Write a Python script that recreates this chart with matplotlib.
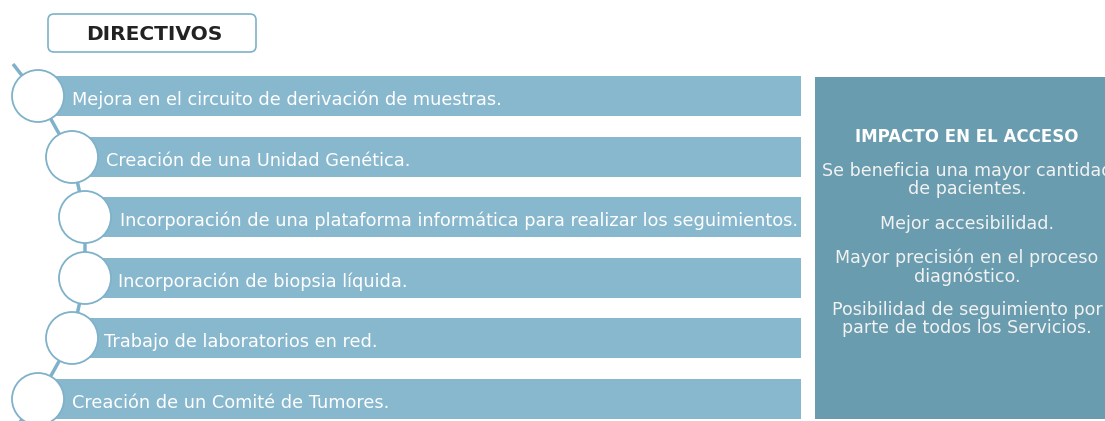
import matplotlib.pyplot as plt
from matplotlib.patches import Rectangle, Circle, FancyBboxPatch

# --- DATA ---
header = "DIRECTIVOS"
directivos = [
    "Mejora en el circuito de derivación de muestras.",
    "Creación de una Unidad Genética.",
    "Incorporación de una plataforma informática para realizar los seguimientos.",
    "Incorporación de biopsia líquida.",
    "Trabajo de laboratorios en red.",
    "Creación de un Comité de Tumores.",
]
panel_title = "IMPACTO EN EL ACCESO"
impactos = [
    "Se beneficia una mayor cantidad\nde pacientes.",
    "Mejor accesibilidad.",
    "Mayor precisión en el proceso\ndiagnóstico.",
    "Posibilidad de seguimiento por\nparte de todos los Servicios.",
]

# --- LAYOUT (pixels) ---
W, H = 1105, 421
bar_top = [76, 137, 197, 258, 318, 379]
bar_h = 40
bar_right = 801
circle_x = [38, 72, 85, 85, 72, 38]
circle_r = 26
text_x = [72, 106, 120, 118, 104, 72]
impact_y = [180, 224, 267, 319]

bar_color = '#88b8ce'
edge_color = '#7fb2ca'
panel_color = '#689cae'

fig = plt.figure(figsize=(W / 100, H / 100), dpi=100)
ax = fig.add_axes([0, 0, 1, 1])
ax.set_xlim(0, W)
ax.set_ylim(H, 0)
ax.axis('off')

# header box
box = FancyBboxPatch((48, 14), 208, 38, boxstyle="round,pad=0,rounding_size=6",
                     facecolor='white', edgecolor=edge_color, linewidth=1.2)
ax.add_patch(box)
ax.text(154, 34, header, ha='center', va='center', fontsize=14.5,
        fontweight='bold', color='#222222')

# connector line through circle centres
centres_y = [t + bar_h / 2 for t in bar_top]
xs = [13] + circle_x + [13]
ys = [64] + centres_y + [centres_y[-1] + 32]
ax.plot(xs, ys, color=edge_color, linewidth=2.5, zorder=1, solid_capstyle='butt')

for i, label in enumerate(directivos):
    ax.add_patch(Rectangle((circle_x[i], bar_top[i]), bar_right - circle_x[i], bar_h,
                           facecolor=bar_color, edgecolor='none', zorder=2))
    ax.add_patch(Circle((circle_x[i], centres_y[i]), circle_r, facecolor='white',
                        edgecolor=edge_color, linewidth=1.3, zorder=3))
    ax.text(text_x[i], centres_y[i] + 4, label, ha='left', va='center',
            fontsize=12.8, color='white', zorder=4)

# right panel
ax.add_patch(Rectangle((815, 77), W - 815, 342, facecolor=panel_color,
                       edgecolor='none'))
ax.text(967, 137, panel_title, ha='center', va='center', fontsize=12,
        fontweight='bold', color='white')
for y, txt in zip(impact_y, impactos):
    ax.text(967, y, txt, ha='center', va='center', fontsize=12.6,
            color='#f2f2f2', linespacing=1.0)

plt.savefig('out.png', dpi=100)
